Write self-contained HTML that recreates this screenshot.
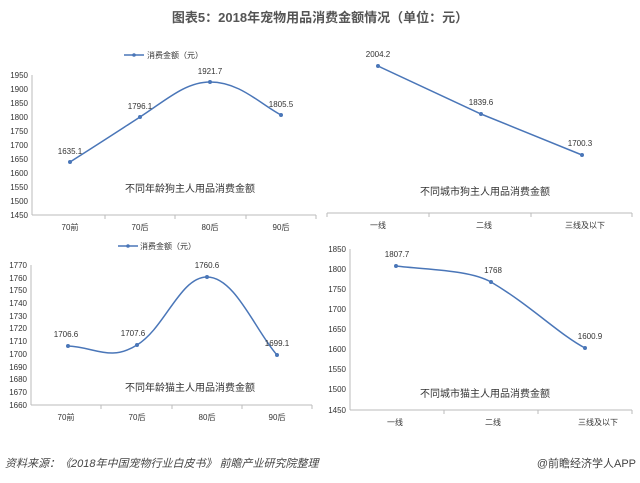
<!DOCTYPE html>
<html><head><meta charset="utf-8"><style>
html,body{margin:0;padding:0;background:#fff;}
svg{display:block;font-family:"Liberation Sans","Noto Sans CJK SC",sans-serif;}
</style></head><body>
<svg width="640" height="483" viewBox="0 0 640 483" xmlns="http://www.w3.org/2000/svg">
<rect width="640" height="483" fill="#fff"/>
<text x="320" y="22" text-anchor="middle" font-size="13" fill="#555" font-weight="bold">图表5：2018年宠物用品消费金额情况（单位：元）</text>

<!-- Chart 1 -->
<g font-size="8" fill="#333">
<line x1="124" y1="55" x2="144" y2="55" stroke="#4a76b8" stroke-width="1.5"/><circle cx="134" cy="55" r="1.8" fill="#4a76b8"/>
<text x="147" y="58">消费金额（元）</text>
<line x1="32" y1="75" x2="32" y2="215" stroke="#bbb"/>
<line x1="32" y1="215" x2="316" y2="215" stroke="#bbb"/>
<g stroke="#bbb"><line x1="105" y1="215" x2="105" y2="219"/><line x1="175" y1="215" x2="175" y2="219"/><line x1="246" y1="215" x2="246" y2="219"/><line x1="316" y1="215" x2="316" y2="219"/></g>
<g text-anchor="end">
<text x="28" y="78">1950</text><text x="28" y="92">1900</text><text x="28" y="106">1850</text><text x="28" y="120">1800</text><text x="28" y="134">1750</text><text x="28" y="148">1700</text><text x="28" y="162">1650</text><text x="28" y="176">1600</text><text x="28" y="190">1550</text><text x="28" y="204">1500</text><text x="28" y="218">1450</text>
</g>
<g text-anchor="middle"><text x="70" y="230">70前</text><text x="140" y="230">70后</text><text x="210" y="230">80后</text><text x="281" y="230">90后</text></g>
<path d="M70,162 C100,143 120,130 140,117 C165,101 185,82 210,82 C240,82 260,104 281,115" fill="none" stroke="#4a76b8" stroke-width="1.5"/>
<g fill="#4a76b8"><circle cx="70" cy="162" r="2"/><circle cx="140" cy="117" r="2"/><circle cx="210" cy="82" r="2"/><circle cx="281" cy="115" r="2"/></g>
<g text-anchor="middle"><text x="70" y="154">1635.1</text><text x="140" y="109">1796.1</text><text x="210" y="74">1921.7</text><text x="281" y="107">1805.5</text></g>
<text x="190" y="192" text-anchor="middle" font-size="10">不同年龄狗主人用品消费金额</text>
</g>

<!-- Chart 2 -->
<g font-size="8" fill="#333">
<line x1="327" y1="213" x2="632" y2="213" stroke="#bbb"/>
<g stroke="#bbb"><line x1="327" y1="213" x2="327" y2="217"/><line x1="429" y1="213" x2="429" y2="217"/><line x1="531" y1="213" x2="531" y2="217"/><line x1="632" y1="213" x2="632" y2="217"/></g>
<g text-anchor="middle"><text x="378" y="228">一线</text><text x="484" y="228">二线</text><text x="585" y="228">三线及以下</text></g>
<path d="M378,66 L481,114 L582,155" fill="none" stroke="#4a76b8" stroke-width="1.5"/>
<g fill="#4a76b8"><circle cx="378" cy="66" r="2"/><circle cx="481" cy="114" r="2"/><circle cx="582" cy="155" r="2"/></g>
<g text-anchor="middle"><text x="378" y="57">2004.2</text><text x="481" y="105">1839.6</text><text x="580" y="146">1700.3</text></g>
<text x="485" y="195" text-anchor="middle" font-size="10">不同城市狗主人用品消费金额</text>
</g>

<!-- Chart 3 -->
<g font-size="8" fill="#333">
<line x1="118" y1="246" x2="138" y2="246" stroke="#4a76b8" stroke-width="1.5"/><circle cx="128" cy="246" r="1.8" fill="#4a76b8"/>
<text x="140" y="249">消费金额（元）</text>
<line x1="31" y1="265" x2="31" y2="405" stroke="#bbb"/>
<line x1="31" y1="405" x2="312" y2="405" stroke="#bbb"/>
<g stroke="#bbb"><line x1="101" y1="405" x2="101" y2="409"/><line x1="172" y1="405" x2="172" y2="409"/><line x1="242" y1="405" x2="242" y2="409"/><line x1="312" y1="405" x2="312" y2="409"/></g>
<g text-anchor="end">
<text x="27" y="268">1770</text><text x="27" y="281">1760</text><text x="27" y="293">1750</text><text x="27" y="306">1740</text><text x="27" y="319">1730</text><text x="27" y="331">1720</text><text x="27" y="344">1710</text><text x="27" y="357">1700</text><text x="27" y="370">1690</text><text x="27" y="382">1680</text><text x="27" y="395">1670</text><text x="27" y="408">1660</text>
</g>
<g text-anchor="middle"><text x="66" y="420">70前</text><text x="137" y="420">70后</text><text x="207" y="420">80后</text><text x="277" y="420">90后</text></g>
<path d="M68,346 C95,347 110,362 137,345 C165,328 180,277 207,277 C235,277 255,330 277,355" fill="none" stroke="#4a76b8" stroke-width="1.5"/>
<g fill="#4a76b8"><circle cx="68" cy="346" r="2"/><circle cx="137" cy="345" r="2"/><circle cx="207" cy="277" r="2"/><circle cx="277" cy="355" r="2"/></g>
<g text-anchor="middle"><text x="66" y="337">1706.6</text><text x="133" y="336">1707.6</text><text x="207" y="268">1760.6</text><text x="277" y="346">1699.1</text></g>
<text x="190" y="391" text-anchor="middle" font-size="10">不同年龄猫主人用品消费金额</text>
</g>

<!-- Chart 4 -->
<g font-size="8" fill="#333">
<line x1="350" y1="249" x2="350" y2="410" stroke="#bbb"/>
<line x1="350" y1="410" x2="632" y2="410" stroke="#bbb"/>
<g stroke="#bbb"><line x1="444" y1="410" x2="444" y2="414"/><line x1="538" y1="410" x2="538" y2="414"/><line x1="632" y1="410" x2="632" y2="414"/></g>
<g text-anchor="end">
<text x="346" y="252">1850</text><text x="346" y="272">1800</text><text x="346" y="292">1750</text><text x="346" y="312">1700</text><text x="346" y="332">1650</text><text x="346" y="352">1600</text><text x="346" y="372">1550</text><text x="346" y="392">1500</text><text x="346" y="413">1450</text>
</g>
<g text-anchor="middle"><text x="395" y="425">一线</text><text x="493" y="425">二线</text><text x="598" y="425">三线及以下</text></g>
<path d="M396,266 C430,270 470,270 491,282 C530,305 560,335 585,348" fill="none" stroke="#4a76b8" stroke-width="1.5"/>
<g fill="#4a76b8"><circle cx="396" cy="266" r="2"/><circle cx="491" cy="282" r="2"/><circle cx="585" cy="348" r="2"/></g>
<g text-anchor="middle"><text x="397" y="257">1807.7</text><text x="493" y="273">1768</text><text x="590" y="339">1600.9</text></g>
<text x="485" y="397" text-anchor="middle" font-size="10">不同城市猫主人用品消费金额</text>
</g>

<!-- Footer -->
<text x="5" y="467" font-size="11" font-style="italic" fill="#444">资料来源：《2018年中国宠物行业白皮书》 前瞻产业研究院整理</text>
<text x="636" y="467" font-size="11" fill="#444" text-anchor="end">@前瞻经济学人APP</text>
</svg>
</body></html>
